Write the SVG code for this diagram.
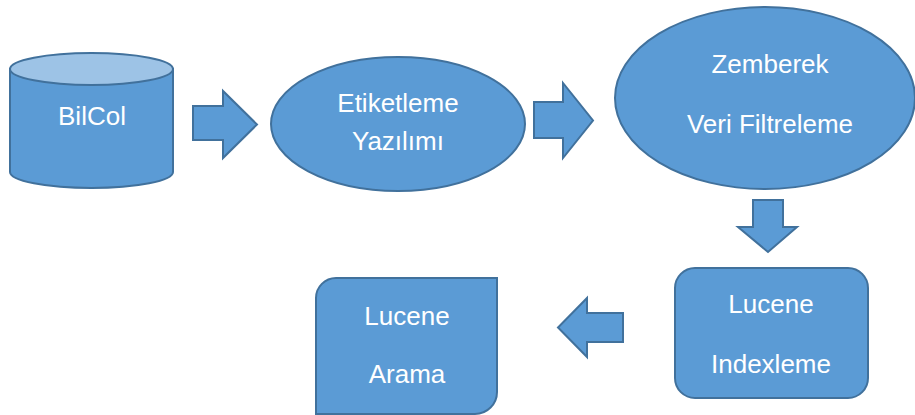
<svg xmlns="http://www.w3.org/2000/svg" width="915" height="415" viewBox="0 0 915 415">
<style>
.s{fill:#5B9BD5;stroke:#41719C;stroke-width:2}
.top{fill:#9DC3E6;stroke:#41719C;stroke-width:2}
.t{fill:#FFFFFF;font-family:"Liberation Sans",Arial,sans-serif;font-size:26px;text-anchor:middle}
</style>
<rect width="915" height="415" fill="#FFFFFF"/>
<g id="bilcol">
<path class="s" d="M10,69 L10,172 A81.5,16 0 0 0 173,172 L173,69 Z"/>
<ellipse class="top" cx="91.5" cy="69" rx="81.5" ry="16"/>
<text class="t" x="92" y="125">BilCol</text>
</g>
<g id="etiketleme">
<ellipse class="s" cx="398" cy="124" rx="127" ry="67"/>
<text class="t" x="398" y="112">Etiketleme</text>
<text class="t" x="398" y="150">Yazılımı</text>
</g>
<g id="zemberek">
<ellipse class="s" cx="765" cy="98" rx="150" ry="91"/>
<text class="t" x="770" y="73">Zemberek</text>
<text class="t" x="770" y="133">Veri Filtreleme</text>
</g>
<g id="indexleme">
<rect class="s" x="675" y="268" width="193" height="130" rx="20" ry="20"/>
<text class="t" x="771" y="313">Lucene</text>
<text class="t" x="771" y="373">Indexleme</text>
</g>
<g id="arama">
<path class="s" d="M316,298 A20,20 0 0 1 336,278 L497,278 L497,392 A22,22 0 0 1 475,414 L316,414 Z"/>
<text class="t" x="407" y="325">Lucene</text>
<text class="t" x="407" y="383">Arama</text>
</g>
<g id="connectors">
<path class="s" d="M193,106 L223,106 L223,91 L257,124.5 L223,158 L223,140 L193,140 Z"/>
<path class="s" d="M534,102 L563,102 L563,83 L593,120.5 L563,158 L563,138 L534,138 Z"/>
<path class="s" d="M753,200 L783,200 L783,227 L797,227 L768,252 L738,227 L753,227 Z"/>
<path class="s" d="M623,313 L587,313 L587,298 L558,327.5 L587,357 L587,342 L623,342 Z"/>
</g>
</svg>
